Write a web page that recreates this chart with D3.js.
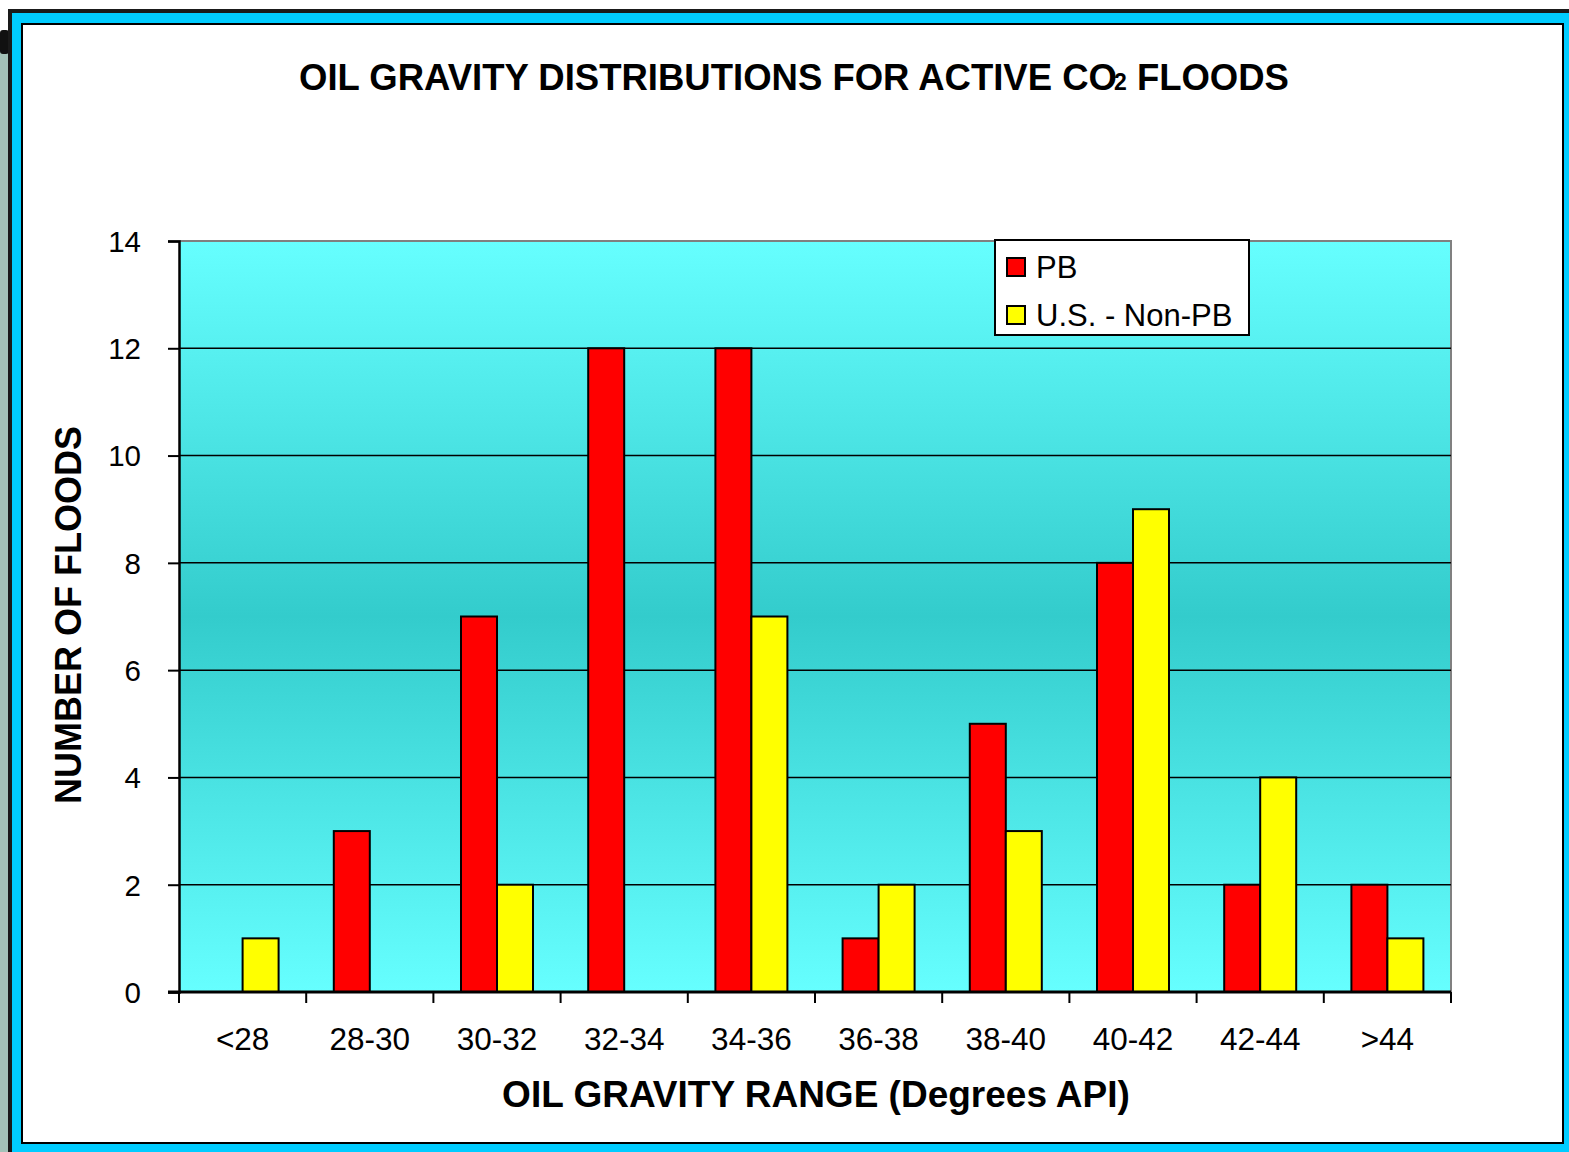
<!DOCTYPE html>
<html>
<head>
<meta charset="utf-8">
<script src="https://cdn.jsdelivr.net/npm/d3@7"></script>
<style>
  html, body { margin: 0; padding: 0; background: #ffffff; }
  svg { display: block; }
  text { font-family: "Liberation Sans", Arial, sans-serif; fill: #000; }
</style>
</head>
<body>
<script>
// Oil gravity ranges (degrees API) and flood counts per group
const categories = ["<28", "28-30", "30-32", "32-34", "34-36", "36-38", "38-40", "40-42", "42-44", ">44"];
const pbFloods = [0, 3, 7, 12, 12, 1, 5, 8, 2, 2];
const nonPbFloods = [1, 0, 2, 0, 7, 2, 3, 9, 4, 1];
const seriesNames = ["PB", "U.S. - Non-PB"];
const seriesColors = ["#FF0000", "#FFFF00"];
const yTicks = [0, 2, 4, 6, 8, 10, 12, 14];

const W = 1569, H = 1152;
const svg = d3.select("body").append("svg").attr("width", W).attr("height", H);

// Slide frame: black outer line, cyan band, black inner line
svg.append("rect").attr("x", 0).attr("y", 40).attr("width", 8).attr("height", H - 40).attr("fill", "#A3C2B8");
svg.append("rect").attr("x", 0).attr("y", 30).attr("width", 9).attr("height", 24).attr("rx", 3).attr("fill", "#111");
svg.append("rect").attr("x", 8).attr("y", 9).attr("width", W - 8).attr("height", H - 9).attr("fill", "#1a1a1a");
svg.append("rect").attr("x", 12).attr("y", 13).attr("width", W - 12).attr("height", H - 13).attr("fill", "#00CCFF");
svg.append("rect").attr("x", 21).attr("y", 23).attr("width", 1564 - 21).attr("height", 1144 - 23).attr("fill", "#000");
svg.append("rect").attr("x", 23).attr("y", 25).attr("width", 1562 - 23).attr("height", 1142 - 25).attr("fill", "#fff");

const plot = { left: 179, right: 1451, top: 241, bottom: 992 };

const x = d3.scaleBand().domain(categories).range([plot.left, plot.right]).paddingInner(0).paddingOuter(0);
const y = d3.scaleLinear().domain([0, 14]).range([plot.bottom, plot.top]);
const barW = 36;

// Plot background gradient
const defs = svg.append("defs");
const grad = defs.append("linearGradient").attr("id", "plotBg").attr("x1", 0).attr("y1", 0).attr("x2", 0).attr("y2", 1);
grad.append("stop").attr("offset", "0%").attr("stop-color", "#66FFFF");
grad.append("stop").attr("offset", "50%").attr("stop-color", "#33CCCC");
grad.append("stop").attr("offset", "100%").attr("stop-color", "#66FFFF");

svg.append("rect")
  .attr("x", plot.left).attr("y", plot.top)
  .attr("width", plot.right - plot.left).attr("height", plot.bottom - plot.top)
  .attr("fill", "url(#plotBg)");

// Plot-area border (top and right) in gray
svg.append("path")
  .attr("d", `M${plot.left},${plot.top}H${plot.right}V${plot.bottom}`)
  .attr("fill", "none").attr("stroke", "#808080").attr("stroke-width", 2);

// Horizontal gridlines
svg.append("g").selectAll("line")
  .data(yTicks.filter(t => t > 0 && t < 14))
  .join("line")
  .attr("x1", plot.left).attr("x2", plot.right)
  .attr("y1", d => y(d)).attr("y2", d => y(d))
  .attr("stroke", "#000").attr("stroke-width", 1.5);

// Bars
const rows = categories.map((c, i) => ({ cat: c, vals: [pbFloods[i], nonPbFloods[i]] }));
const groups = svg.append("g").selectAll("g").data(rows).join("g");
groups.selectAll("rect")
  .data(d => d.vals.map((v, k) => ({ cat: d.cat, v, k })).filter(e => e.v > 0))
  .join("rect")
  .attr("x", e => x(e.cat) + x.bandwidth() / 2 - barW + e.k * barW)
  .attr("y", e => y(e.v))
  .attr("width", barW)
  .attr("height", e => y(0) - y(e.v))
  .attr("fill", e => seriesColors[e.k])
  .attr("stroke", "#000").attr("stroke-width", 2);

// Y axis
const yAxis = svg.append("g").attr("transform", `translate(${plot.left},0)`)
  .call(d3.axisLeft(y).tickValues(yTicks).tickSize(11).tickPadding(27).tickFormat(d3.format("d")));
yAxis.select(".domain").attr("stroke", "#000").attr("stroke-width", 2.5);
yAxis.selectAll(".tick line").attr("stroke", "#000").attr("stroke-width", 2);
yAxis.selectAll(".tick text").attr("font-size", 29.5).attr("font-family", "Liberation Sans, Arial, sans-serif").attr("dy", "0.35em");

// X axis with ticks at category boundaries
const boundaries = categories.map(c => x(c)).concat([plot.right]);
const xg = svg.append("g");
xg.append("line").attr("x1", plot.left - 11).attr("x2", plot.right)
  .attr("y1", plot.bottom).attr("y2", plot.bottom)
  .attr("stroke", "#000").attr("stroke-width", 3);
xg.selectAll("line.tk").data(boundaries).join("line").attr("class", "tk")
  .attr("x1", d => d).attr("x2", d => d)
  .attr("y1", plot.bottom).attr("y2", plot.bottom + 11)
  .attr("stroke", "#000").attr("stroke-width", 2);
xg.selectAll("text").data(categories).join("text")
  .attr("x", d => x(d) + x.bandwidth() / 2)
  .attr("y", 1050)
  .attr("text-anchor", "middle")
  .attr("font-size", 31.5)
  .text(d => d);

// Title
const title = svg.append("text")
  .attr("x", 794).attr("y", 90)
  .attr("text-anchor", "middle")
  .attr("font-size", 36.5).attr("font-weight", "bold");
title.append("tspan").text("OIL GRAVITY DISTRIBUTIONS FOR ACTIVE CO");
title.append("tspan").attr("font-size", 23).attr("dx", -3).text("2");
title.append("tspan").text(" FLOODS");

// Axis titles
svg.append("text")
  .attr("transform", "translate(81,615) rotate(-90)")
  .attr("text-anchor", "middle")
  .attr("font-size", 36).attr("font-weight", "bold")
  .text("NUMBER OF FLOODS");

svg.append("text")
  .attr("x", 816).attr("y", 1107)
  .attr("text-anchor", "middle")
  .attr("font-size", 37).attr("font-weight", "bold")
  .text("OIL GRAVITY RANGE (Degrees API)");

// Legend
const lg = svg.append("g");
lg.append("rect").attr("x", 995).attr("y", 240).attr("width", 254).attr("height", 95)
  .attr("fill", "#fff").attr("stroke", "#000").attr("stroke-width", 2);
seriesNames.forEach((name, k) => {
  const cy = 267 + k * 48;
  lg.append("rect").attr("x", 1007).attr("y", cy - 9).attr("width", 18).attr("height", 18)
    .attr("fill", seriesColors[k]).attr("stroke", "#000").attr("stroke-width", 2);
  lg.append("text").attr("x", 1036).attr("y", cy + 11).attr("font-size", 31).text(name);
});
</script>
</body>
</html>
